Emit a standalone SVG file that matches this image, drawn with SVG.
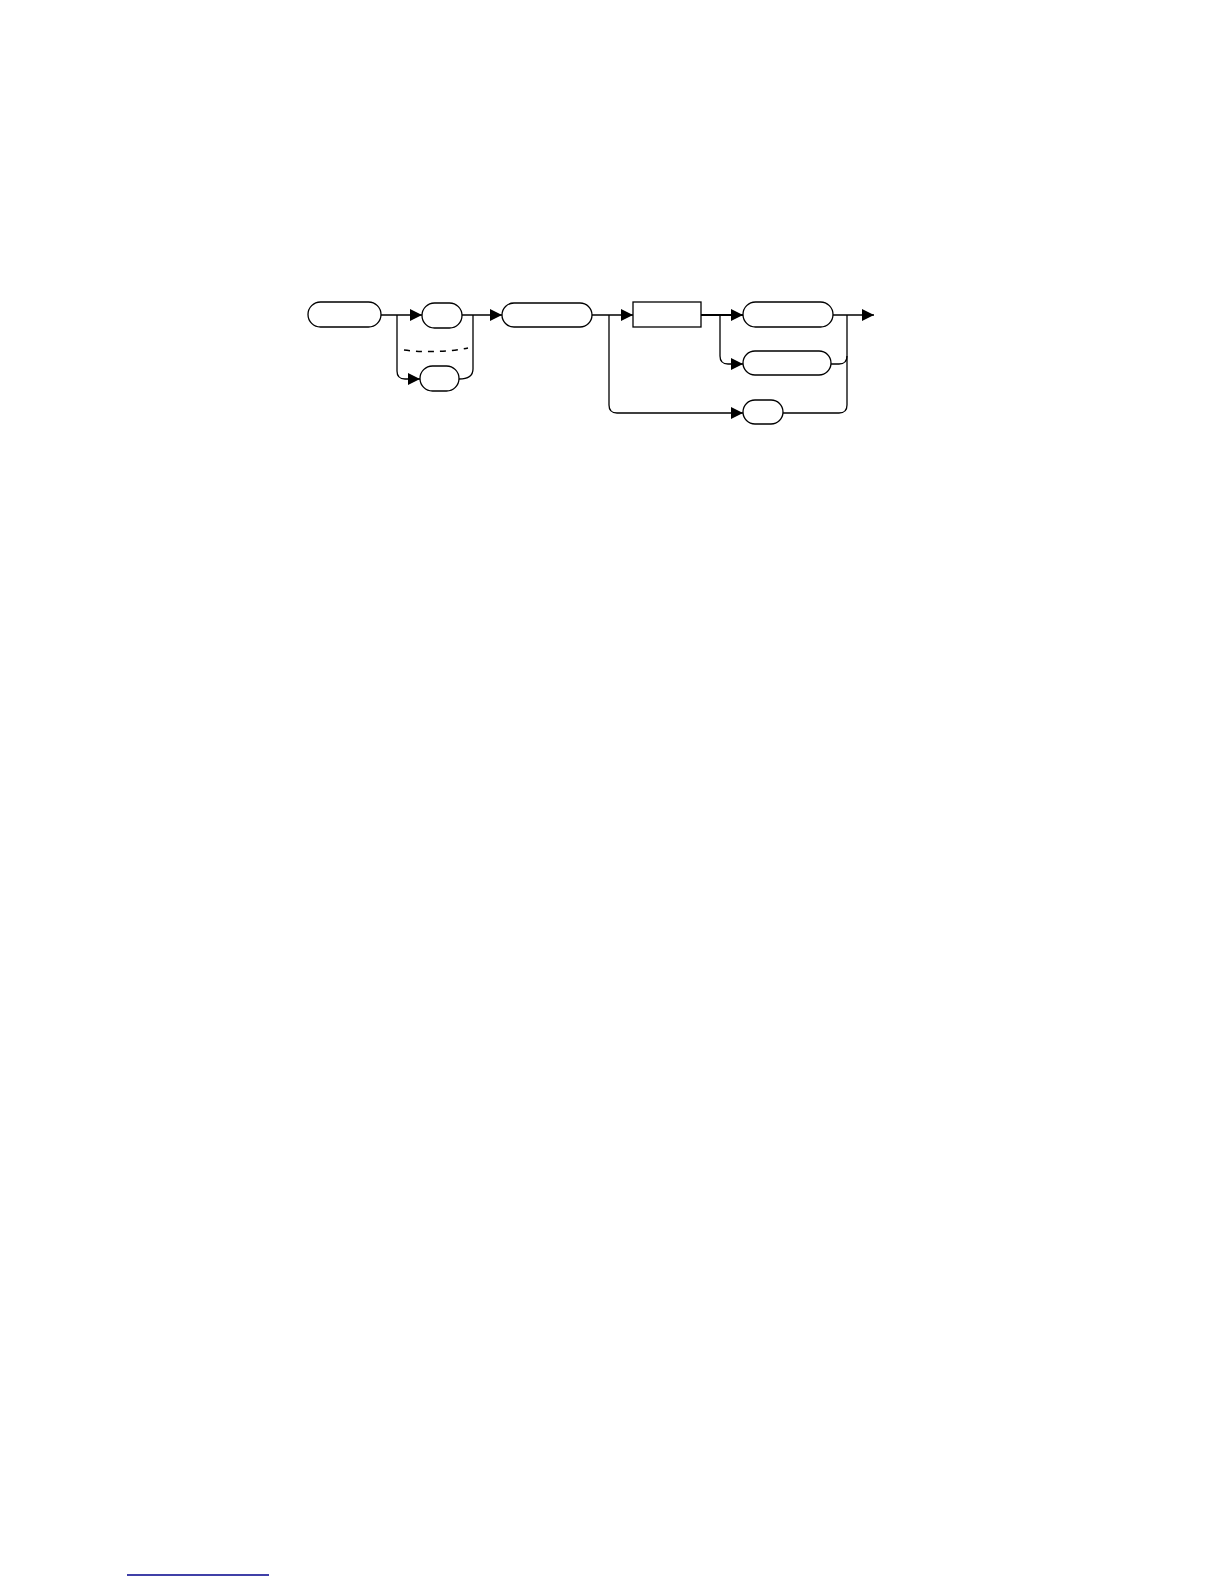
<svg xmlns="http://www.w3.org/2000/svg" width="1224" height="1584" viewBox="0 0 1224 1584">
<defs>
<style>
.n{fill:#fff;stroke:#000;stroke-width:1.3}
.c{fill:none;stroke:#000;stroke-width:1.3}
.thick{stroke-width:2.2}
.dash{stroke-dasharray:6,6;stroke-width:1.5}
</style>
<marker id="ar" markerWidth="12" markerHeight="12" refX="12" refY="6" orient="auto" markerUnits="userSpaceOnUse">
<path d="M0,0 L12,6 L0,12 Z" fill="#000"/>
</marker>
</defs>
<rect width="1224" height="1584" fill="#fff"/>
<g id="connectors">
<path class="c" d="M381,315 H422" marker-end="url(#ar)"/>
<path class="c" d="M462,315 H502" marker-end="url(#ar)"/>
<path class="c" d="M397,315 V371 Q397,379 405,379 H420" marker-end="url(#ar)"/>
<path class="c" d="M459,379 Q473,379 473,369 V315"/>
<path class="c dash" d="M404,350 Q436,354 468,348"/>
<path class="c" d="M592,315 H633" marker-end="url(#ar)"/>
<path class="c" d="M609,315 V405 Q609,413 617,413 H743" marker-end="url(#ar)"/>
<path class="c thick" d="M701,315 H743" marker-end="url(#ar)"/>
<path class="c" d="M720,315 V356 Q720,364 728,364 H743" marker-end="url(#ar)"/>
<path class="c" d="M833,315 H874" marker-end="url(#ar)"/>
<path class="c" d="M831,364 H839 Q847,364 847,356 V315"/>
<path class="c" d="M783,413 H839 Q847,413 847,405 V356"/>
</g>
<g id="node-a"><rect class="n" x="308" y="302" width="73" height="25" rx="12.5"/></g>
<g id="node-b"><rect class="n" x="422" y="303" width="40" height="25" rx="12.5"/></g>
<g id="node-c"><rect class="n" x="420" y="366" width="39" height="25" rx="12.5"/></g>
<g id="node-d"><rect class="n" x="502" y="303" width="90" height="24" rx="12"/></g>
<g id="node-e"><rect class="n" x="633" y="302" width="68" height="25"/></g>
<g id="node-f"><rect class="n" x="743" y="302" width="90" height="25" rx="12.5"/></g>
<g id="node-g"><rect class="n" x="743" y="351" width="88" height="24" rx="12"/></g>
<g id="node-h"><rect class="n" x="743" y="400" width="40" height="24" rx="12"/></g>
<line x1="127" y1="1575" x2="269" y2="1575" stroke="#00008B" stroke-width="1.5"/>
</svg>
